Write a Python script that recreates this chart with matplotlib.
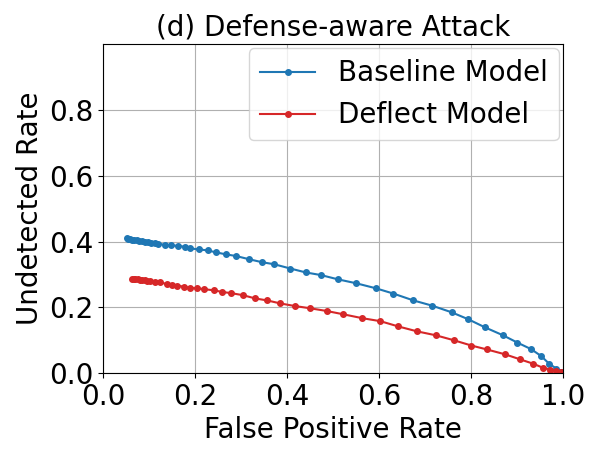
import numpy as np
import matplotlib
matplotlib.use('Agg')
import matplotlib.pyplot as plt

params = {'font.size': 20,
          'legend.fontsize': 20,
          'axes.labelsize': 20,
          'axes.titlesize': 20,
          'xtick.labelsize': 20,
          'ytick.labelsize': 20}
plt.rcParams.update(params)

# baseline model curve
base_fpr = [0.051, 0.055, 0.059, 0.063, 0.068, 0.073, 0.078, 0.084, 0.090, 0.097,
            0.105, 0.113, 0.120, 0.135, 0.148, 0.162, 0.178, 0.189, 0.209, 0.227,
            0.246, 0.267, 0.289, 0.318, 0.346, 0.372, 0.407, 0.441, 0.474, 0.511,
            0.551, 0.593, 0.631, 0.675, 0.716, 0.758, 0.794, 0.831, 0.870, 0.901,
            0.931, 0.953, 0.970, 0.986, 0.997]
base_und = [0.410, 0.409, 0.408, 0.406, 0.405, 0.404, 0.403, 0.401, 0.400, 0.399,
            0.397, 0.396, 0.394, 0.389, 0.388, 0.387, 0.384, 0.379, 0.376, 0.373,
            0.367, 0.361, 0.356, 0.346, 0.337, 0.331, 0.318, 0.306, 0.298, 0.285,
            0.273, 0.258, 0.242, 0.221, 0.205, 0.185, 0.164, 0.139, 0.115, 0.093,
            0.073, 0.052, 0.029, 0.014, 0.005]

# deflect model curve
defl_fpr = [0.062, 0.066, 0.070, 0.075, 0.080, 0.085, 0.090, 0.096, 0.102, 0.113,
            0.124, 0.138, 0.149, 0.160, 0.175, 0.188, 0.204, 0.220, 0.240, 0.258,
            0.279, 0.304, 0.331, 0.357, 0.385, 0.417, 0.451, 0.486, 0.522, 0.564,
            0.603, 0.642, 0.683, 0.724, 0.763, 0.801, 0.835, 0.875, 0.907, 0.935,
            0.956, 0.972, 0.986, 0.995]
defl_und = [0.287, 0.287, 0.286, 0.285, 0.284, 0.283, 0.282, 0.281, 0.280, 0.278,
            0.276, 0.271, 0.268, 0.266, 0.263, 0.259, 0.258, 0.255, 0.252, 0.247,
            0.243, 0.237, 0.227, 0.221, 0.212, 0.204, 0.197, 0.189, 0.179, 0.167,
            0.158, 0.142, 0.127, 0.115, 0.100, 0.084, 0.072, 0.057, 0.042, 0.029,
            0.017, 0.011, 0.007, 0.005]

fig = plt.figure(figsize=(6, 4.59), dpi=100)
ax = fig.add_subplot(111)
fig.subplots_adjust(left=0.172, right=0.938, top=0.904, bottom=0.187)

ax.plot(base_fpr, base_und, marker='o', markersize=4, color='#1f77b4', label='Baseline Model')
ax.plot(defl_fpr, defl_und, marker='o', markersize=4, color='#d62728', label='Deflect Model')

ax.set_xlim(0, 1.0)
ax.set_ylim(0, 1.0)
ax.set_xticks([0.0, 0.2, 0.4, 0.6, 0.8, 1.0])
ax.set_yticks([0.0, 0.2, 0.4, 0.6, 0.8])
ax.grid(True)
ax.set_xlabel('False Positive Rate')
ax.set_ylabel('Undetected Rate')
ax.set_title('(d) Defense-aware Attack')
ax.legend(loc='upper right', borderaxespad=0.15)

fig.savefig('out.png', dpi=100)
